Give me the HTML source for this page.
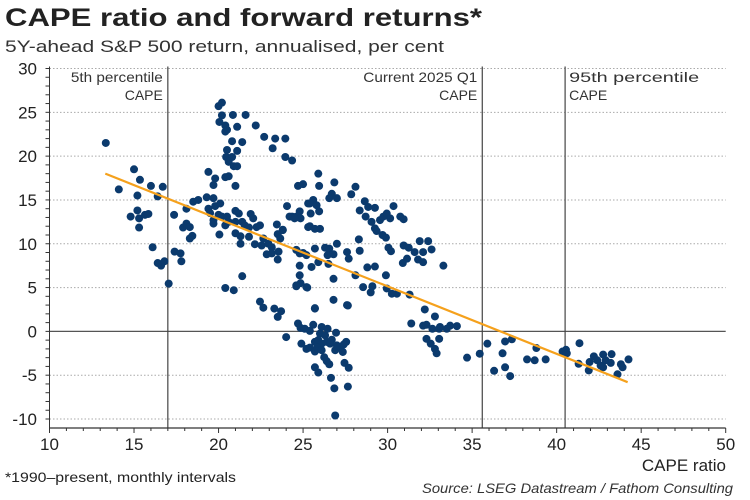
<!DOCTYPE html>
<html><head><meta charset="utf-8">
<style>
body{margin:0;background:#fff;}
svg{display:block;font-family:"Liberation Sans",Arial,sans-serif;}
</style></head>
<body>
<svg id="chart" width="750" height="500" viewBox="0 0 750 500" xmlns="http://www.w3.org/2000/svg">
<text x="5" y="26" font-size="25" font-weight="bold" fill="#222" textLength="477" lengthAdjust="spacingAndGlyphs">CAPE ratio and forward returns*</text>
<text x="5" y="52" font-size="17" fill="#333" textLength="439" lengthAdjust="spacingAndGlyphs">5Y-ahead S&amp;P 500 return, annualised, per cent</text>
<g id="grid"></g>
<g id="axes"></g>
<g id="marks"></g>
<text x="726" y="471" font-size="17" fill="#222" text-anchor="end">CAPE ratio</text>
<text x="5" y="482" font-size="14" fill="#222" textLength="231" lengthAdjust="spacingAndGlyphs">*1990–present, monthly intervals</text>
<text x="733" y="493" font-size="14" font-style="italic" fill="#333" text-anchor="end" textLength="311" lengthAdjust="spacingAndGlyphs">Source: LSEG Datastream / Fathom Consulting</text>
</svg>
<script>
const xTicks=[10,15,20,25,30,35,40,45,50];
const yTicks=[30,25,20,15,10,5,0,-5,-10];
const refLineValues=[17,35.6,40.5];
const refLineLabels=[["5th percentile","CAPE"],["Current 2025 Q1","CAPE"],["95th percentile","CAPE"]];
const refLabelWidths=[92,114,130];
const trendStart=[13.3,18.0];
const trendEnd=[44.2,-5.8];
const capeX=[13.33,15.0,15.35,14.1,16.0,16.7,15.2,16.4,15.2,14.8,15.3,15.65,15.85,15.3,16.1,16.4,16.6,16.8,17.05,17.37,17.4,17.75,17.8,18.1,17.9,18.1,18.3,18.45,18.3,18.5,18.8,19.3,19.7,19.4,19.8,20.1,19.5,19.7,19.7,20.0,20.2,20.5,20.4,20.6,20.05,21.0,21.2,21.0,21.4,21.55,21.9,22.05,21.0,21.3,21.3,21.8,21.8,22.25,22.45,22.15,22.55,22.65,22.95,23.15,22.85,23.15,23.45,23.5,23.65,23.8,23.55,23.5,24.05,24.35,24.6,24.8,24.85,24.7,25.0,25.3,25.3,24.6,25.0,24.8,24.8,24.6,25.2,21.4,20.4,20.9,22.45,22.65,23.3,
20.0,20.2,20.2,20.85,21.6,20.05,20.4,20.5,20.4,21.1,22.2,22.7,23.35,23.95,23.2,20.8,21.4,20.5,21.1,20.45,20.8,23.95,24.35,20.6,20.9,21.1,19.4,19.8,20.4,20.6,19.7,21.0,
25.9,25.95,26.85,28.1,27.85,26.7,26.55,27.0,25.6,25.4,25.8,25.95,25.45,24.2,24.5,25.4,25.7,26.0,23.8,28.65,28.85,29.25,28.35,30.35,28.7,29.05,29.55,29.75,29.95,30.15,30.75,30.95,29.25,29.35,29.7,29.9,28.3,28.35,30.05,30.2,30.95,31.25,31.9,32.4,31.6,32.1,32.6,31.15,30.9,31.8,32.1,33.3,24.8,25.2,25.7,26.3,26.55,27.0,26.45,26.8,27.6,27.7,26.5,25.9,25.5,28.8,29.25,28.1,29.9,24.85,24.6,25.25,26.8,28.55,29.1,29.0,29.95,30.25,30.55,31.3,26.8,27.6,25.7,23.7,23.5,32.2,32.8,31.4,32.1,33.1,33.7,34.1,
25.7,27.65,24.7,24.85,25.1,25.6,25.4,26.1,26.45,26.0,26.3,26.95,24.0,24.9,25.2,25.4,25.7,25.9,26.1,26.4,26.7,26.6,25.7,25.85,26.1,26.9,27.2,27.35,27.55,27.4,27.0,26.25,26.4,26.55,27.45,27.7,25.7,25.9,26.65,26.85,27.65,26.9,
32.3,32.65,33.05,33.5,32.3,32.55,33.05,32.8,32.9,34.7,35.45,35.9,36.95,37.35,36.8,36.3,36.95,37.25,38.25,38.7,39.35,38.8,40.35,40.55,40.6,41.35,41.3,41.95,41.9,42.2,42.4,42.6,42.75,42.9,42.75,43.25,43.2,43.6,43.8,43.9,44.25];
const returnY=[21.5,18.5,17.3,16.2,16.6,16.5,15.5,15.4,13.8,13.1,12.9,13.3,13.4,11.85,9.6,7.8,7.5,8.0,5.45,13.3,9.1,8.9,8.0,14.0,11.85,12.3,11.9,10.9,10.6,14.8,15.0,15.3,15.2,14.0,14.3,14.6,13.5,12.7,12.3,13.3,13.1,13.1,12.1,12.5,11.05,13.75,13.45,12.5,12.5,12.1,13.4,12.9,11.2,10.85,10.0,11.85,10.8,11.9,12.1,9.95,9.8,10.6,10.0,9.6,8.8,8.9,12.2,11.1,10.6,11.6,9.1,8.2,14.3,13.1,13.1,13.7,12.9,16.6,16.8,14.6,11.9,9.3,8.95,7.5,6.4,5.25,5.05,6.3,4.95,4.7,3.4,2.7,2.6,
25.7,26.1,24.65,24.7,24.7,23.9,23.5,23.0,22.8,23.35,23.5,22.2,22.0,22.0,20.9,21.7,21.6,20.7,20.6,19.9,19.9,19.9,19.5,19.35,18.85,18.85,18.2,17.45,17.6,17.7,16.7,16.6,
18.0,16.6,17.0,16.5,15.65,15.7,15.2,15.2,15.0,14.6,14.4,13.7,13.45,13.1,12.9,12.0,11.7,11.7,11.55,14.85,14.2,14.1,13.8,14.3,13.1,12.5,12.7,13.1,13.45,12.9,13.1,12.8,11.75,11.45,11.0,10.7,10.5,9.2,9.55,9.15,9.8,9.55,10.3,10.3,9.05,9.05,9.35,8.3,7.8,8.2,7.9,7.5,8.9,8.7,9.45,9.55,9.45,10.0,8.7,8.8,9.05,8.3,7.7,7.9,7.35,7.3,7.4,6.4,6.4,5.5,5.15,5.0,6.0,5.05,5.15,4.45,4.9,4.3,4.3,4.2,3.6,3.0,2.6,2.3,1.65,2.5,1.7,0.9,0.65,0.5,0.65,0.6,
2.65,2.95,0.9,0.4,0.3,0.75,0.05,0.5,0.3,-0.25,-0.45,-0.15,-0.65,-1.4,-2.0,-1.85,-1.2,-1.0,-1.4,-1.2,-0.95,-1.4,-2.3,-1.85,-2.15,-2.15,-1.8,-2.35,-1.2,-1.5,-1.6,-2.95,-3.4,-3.75,-3.6,-4.15,-4.1,-4.7,-5.3,-6.5,-6.3,-9.6,
0.75,0.3,0.3,0.3,-0.85,-1.4,-0.85,-2.0,-2.5,-3.0,-2.55,-1.4,-1.15,-0.9,-2.5,-4.5,-4.1,-5.1,-3.2,-3.3,-3.2,-1.9,-2.3,-2.1,-2.5,-1.35,-3.7,-3.5,-4.45,-2.85,-3.3,-3.9,-2.65,-3.3,-4.1,-2.6,-3.6,-4.9,-3.75,-4.1,-3.2];

const NS="http://www.w3.org/2000/svg";
const X0=49.5,X1=725.7,Y0=68.5,Y1=419;
function sx(v){return X0+(v-10)*(X1-X0)/40;}
function sy(v){return Y0+(30-v)*(Y1-Y0)/40;}
function mk(tag,attrs,parent,text){const e=document.createElementNS(NS,tag);for(const k in attrs)e.setAttribute(k,attrs[k]);if(text!==undefined)e.textContent=text;parent.appendChild(e);return e;}
const grid=document.getElementById('grid'),axes=document.getElementById('axes'),marks=document.getElementById('marks');
const axisY=428;
yTicks.forEach(t=>{
  if(t!==0){const g=mk('line',{x1:X0,x2:X1,y1:sy(t),y2:sy(t),stroke:'#aaa','stroke-width':1,'stroke-dasharray':'1.5,2'},grid);
  
  }
  const l=mk('text',{x:37,y:sy(t)+6,'font-size':17,fill:'#222','text-anchor':'end'},axes,String(t));
  
  
});
for(let v=-10;v<=30;v++){mk('line',{x1:X0-4,x2:X0,y1:sy(v),y2:sy(v),stroke:'#333','stroke-width':1},axes);}
const yl=mk('line',{x1:X0,x2:X0,y1:Y0-2,y2:axisY,stroke:'#333','stroke-width':1},axes);


const xl=mk('line',{x1:X0,x2:X1,y1:axisY,y2:axisY,stroke:'#333','stroke-width':1.3},axes);


for(let v=10;v<=50;v++){mk('line',{x1:sx(v),x2:sx(v),y1:axisY,y2:axisY+(v%5===0?5:3),stroke:'#333','stroke-width':1},axes);}
xTicks.forEach(t=>{
  const l=mk('text',{x:sx(t),y:450,'font-size':17,fill:'#222','text-anchor':'middle'},axes,String(t));
  
  
});
const zl=mk('line',{x1:X0,x2:X1,y1:sy(0),y2:sy(0),stroke:'#555','stroke-width':1.2},grid);


refLineValues.forEach((v,i)=>{
  const l=mk('line',{x1:sx(v),x2:sx(v),y1:Y0-2,y2:axisY,stroke:'#444','stroke-width':1.2},grid);
  
  
  const anchor=i===2?'start':'end',dx=i===2?4:-5;
  refLineLabels[i].forEach((s,j)=>{
    const attrs={x:sx(v)+dx,y:82+j*18,'font-size':14,fill:'#333','text-anchor':anchor};
    if(j===0){attrs.textLength=refLabelWidths[i];attrs.lengthAdjust='spacingAndGlyphs';}
    const tx=mk('text',attrs,grid,s);
    
    
  });
});
capeX.forEach((x,i)=>{
  const c=mk('circle',{cx:sx(x),cy:sy(returnY[i]),r:4,fill:'#0b3a6d'},marks);
  
  
});
const tl=mk('line',{x1:sx(trendStart[0]),y1:sy(trendStart[1]),x2:sx(trendEnd[0]),y2:sy(trendEnd[1]),stroke:'#f5a11c','stroke-width':2.2},marks);


</script>
</body></html>
